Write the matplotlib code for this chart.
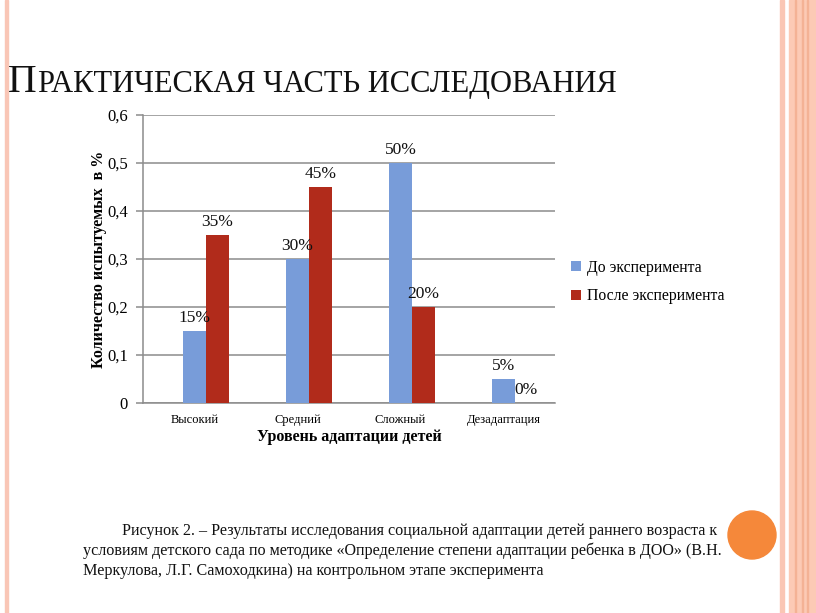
import matplotlib
matplotlib.use("Agg")
import matplotlib.pyplot as plt
import numpy as np
from matplotlib.patches import Rectangle, Circle

plt.rcParams['font.family'] = ['Liberation Serif', 'DejaVu Serif']

# Data
categories = ['Высокий', 'Средний', 'Сложный', 'Дезадаптация']
before = [0.15, 0.30, 0.50, 0.05]
after = [0.35, 0.45, 0.20, 0.00]
series_names = ['До эксперимента', 'После эксперимента']
y_ticks = [0, 0.1, 0.2, 0.3, 0.4, 0.5, 0.6]

BLUE = '#789CD9'
RED = '#B12B1B'
GRID = '#8C8C8C'
W, H = 816, 613


def px(x, y):
    """pixel (top-left origin) -> figure fraction"""
    return x / W, 1 - y / H


fig = plt.figure(figsize=(W / 100, H / 100), dpi=100, facecolor='white')

# Slide decoration
fig.patches.append(Rectangle((5 / W, 0), 3 / W, 1, transform=fig.transFigure,
                             color='#F9C6B6', zorder=0))
fig.patches.append(Rectangle((780 / W, 0), 4 / W, 1, transform=fig.transFigure,
                             color='#FAC6B4', zorder=0))
fig.patches.append(Rectangle((789 / W, 0), 27 / W, 1, transform=fig.transFigure,
                             color='#FCCAB5', zorder=0))
for lx in [795, 802, 807]:
    fig.patches.append(Rectangle((lx / W, 0), 1 / W, 1, transform=fig.transFigure,
                                 color='#F4B295', zorder=0))
fig.patches.append(Circle((752, H - 535), 24, transform=None, color='#F5883A', zorder=1))

# Title in small caps style
tx, ty = px(8, 92)
t1 = fig.text(tx, ty, 'П', fontsize=28.5, color='#111111', va='baseline', ha='left')
fig.canvas.draw()
r = fig.canvas.get_renderer()
bb = t1.get_window_extent(r)
fig.text(bb.x1 / W + 1 / W, ty, 'РАКТИЧЕСКАЯ ЧАСТЬ ИССЛЕДОВАНИЯ', fontsize=22,
         color='#111111', va='baseline', ha='left')

# Chart axes
left, right, top, bottom = 143, 555, 115, 403
ax = fig.add_axes([left / W, 1 - bottom / H, (right - left) / W, (bottom - top) / H])

x = np.arange(len(categories))
bw = 0.223
b1 = ax.bar(x, before, bw, color=BLUE, label=series_names[0], zorder=3)
b2 = ax.bar(x + bw, after, bw, color=RED, label=series_names[1], zorder=3)

for bars, vals in [(b1, before), (b2, after)]:
    for rect, v in zip(bars, vals):
        ax.annotate(f'{int(round(v * 100))}%',
                    (rect.get_x() + rect.get_width() / 2, v),
                    xytext=(0, 9.5), textcoords='offset points',
                    ha='center', va='center', fontsize=12.5, color='#111111', zorder=4)

ax.set_xlim(-0.5, len(categories) - 0.5)
ax.set_ylim(0, 0.6)
ax.set_yticks(y_ticks)
ax.set_yticklabels([('%g' % t).replace('.', ',') for t in y_ticks], fontsize=12)
ax.set_xticks(x)
ax.set_xticklabels(categories, fontsize=9)
ax.tick_params(axis='x', length=0, pad=8)
ax.tick_params(axis='y', length=5, color=GRID, width=1.1, pad=6)
ax.yaxis.grid(True, color=GRID, linewidth=1.1, zorder=0)
ax.set_axisbelow(True)
for s in ['top', 'right']:
    ax.spines[s].set_visible(False)
ax.spines['left'].set_color(GRID)
ax.spines['bottom'].set_color(GRID)
ax.spines['left'].set_linewidth(1.1)
ax.spines['bottom'].set_linewidth(1.1)

ax.set_xlabel('Уровень адаптации детей', fontsize=11.5, fontweight='bold', labelpad=2)
ax.set_ylabel('Количество испытуемых  в %', fontsize=11.5, fontweight='bold', labelpad=0)

lx, ly = px(557, 282)
fig.legend(handles=[b1, b2], labels=series_names, loc='center left',
           bbox_to_anchor=(lx, ly), frameon=False, fontsize=11.3,
           handlelength=0.6, handleheight=0.6, handletextpad=0.4, labelspacing=0.8)

# Caption
cap = [
    (122, 531, 'Рисунок 2. – Результаты исследования социальной адаптации детей раннего возраста к'),
    (83, 551, 'условиям детского сада по методике «Определение степени адаптации ребенка в ДОО» (В.Н.'),
    (83, 571, 'Меркулова, Л.Г. Самоходкина) на контрольном этапе эксперимента'),
]
for cxp, cyp, txt in cap:
    fx, fy = px(cxp, cyp)
    fig.text(fx, fy, txt, fontsize=11.6, color='#111111', va='center', ha='left')

fig.savefig('out.png', dpi=100, facecolor='white')
